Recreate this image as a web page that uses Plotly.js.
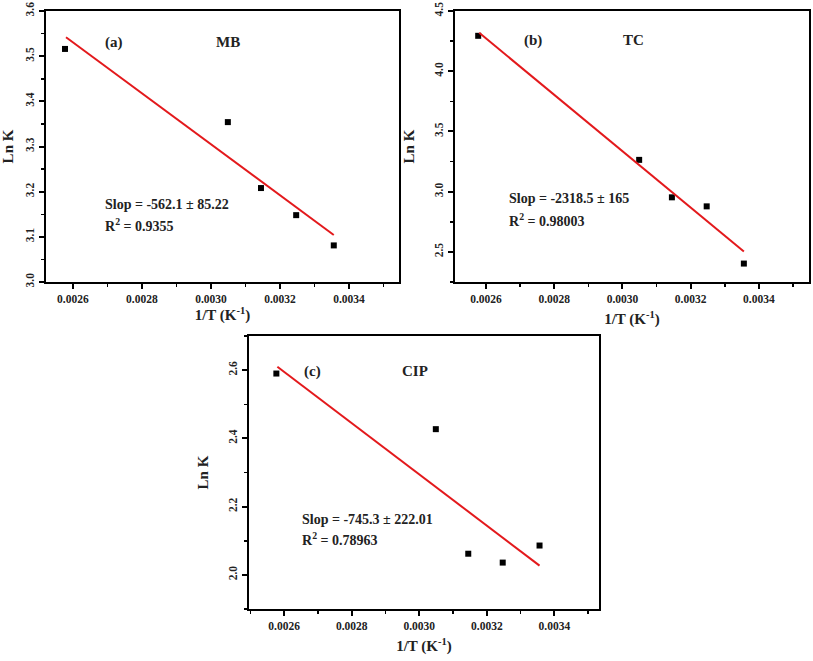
<!DOCTYPE html>
<html>
<head>
<meta charset="utf-8">
<script src="https://cdn.plot.ly/plotly-3.0.1.min.js"></script>
<style>body{margin:0;background:#fff}</style>
</head>
<body>
<div id="graph" style="width:813px;height:661px"></div>
<script>
// 1/T values shared by all three panels
var invT = [0.002577, 0.003049, 0.003145, 0.003247, 0.003356];

// Ln K
var lnK_MB = [3.516, 3.354, 3.208, 3.148, 3.081];
var lnK_TC = [4.294, 3.264, 2.953, 2.878, 2.403];
var lnK_CIP = [2.590, 2.427, 2.062, 2.036, 2.086];

// fitted line end points
var fitX = [0.00258, 0.003356];
var fit_MB = [3.542, 3.104];
var fit_TC = [4.319, 2.503];
var fit_CIP = [2.610, 2.027];

var fitLabels = [
	['(a)', 'MB', 'Slop = -562.1 ± 85.22', 'R<sup>2</sup> = 0.9355'],
	['(b)', 'TC', 'Slop = -2318.5 ± 165', 'R<sup>2</sup> = 0.98003'],
	['(c)', 'CIP', 'Slop = -745.3 ± 222.01', 'R<sup>2</sup> = 0.78963']
];

var serif = 'Liberation Serif, Times New Roman, serif';
var W = 813, H = 661;

function pts(y, ax) {
	return {
		x: invT, y: y, xaxis: 'x' + ax, yaxis: 'y' + ax,
		mode: 'markers', type: 'scatter',
		marker: {symbol: 'square', size: 6, color: '#000'},
		showlegend: false, hoverinfo: 'x+y'
	};
}
function fit(y, ax) {
	return {
		x: fitX, y: y, xaxis: 'x' + ax, yaxis: 'y' + ax,
		mode: 'lines', type: 'scatter',
		line: {color: '#e3191c', width: 2},
		showlegend: false, hoverinfo: 'skip'
	};
}

var data = [
	pts(lnK_MB, ''), fit(fit_MB, ''),
	pts(lnK_TC, '2'), fit(fit_TC, '2'),
	pts(lnK_CIP, '3'), fit(fit_CIP, '3')
];

// box in pixels: left, right, top, bottom
function xax(l, r, range, anchor, off) {
	return {
		domain: [l / W, r / W], range: range, anchor: anchor,
		tick0: 0.0026, dtick: 0.0002, tickformat: '.4f',
		ticks: 'outside', ticklen: 5, tickwidth: 2, tickcolor: '#000',
		minor: {dtick: 0.0001, ticks: 'outside', ticklen: 3, tickwidth: 1.5, tickcolor: '#000'},
		showline: true, linewidth: 2, linecolor: '#000', mirror: true,
		showgrid: false, zeroline: false,
		tickfont: {family: serif, size: 11.5, weight: 'bold', color: '#222'},
		title: {text: '1/T (K<sup>-1</sup>)', standoff: off, font: {family: serif, size: 15, weight: 'bold', color: '#222'}}
	};
}
function yax(t, b, range, dtick, fmt, anchor) {
	return {
		domain: [1 - b / H, 1 - t / H], range: range, anchor: anchor,
		dtick: dtick, tickformat: fmt, tickangle: -90,
		ticks: 'outside', ticklen: 5, tickwidth: 2, tickcolor: '#000',
		minor: {dtick: dtick / 2, ticks: 'outside', ticklen: 3, tickwidth: 1.5, tickcolor: '#000'},
		showline: true, linewidth: 2, linecolor: '#000', mirror: true,
		showgrid: false, zeroline: false,
		tickfont: {family: serif, size: 11.5, weight: 'bold', color: '#222'},
		title: {text: 'Ln K', font: {family: serif, size: 15, weight: 'bold', color: '#222'}}
	};
}

var layout = {
	width: W, height: H,
	margin: {l: 0, r: 0, t: 0, b: 0},
	paper_bgcolor: '#fff', plot_bgcolor: '#fff',
	xaxis: xax(46, 399, [0.002522, 0.003545], 'y', 4),
	yaxis: yax(11, 282, [3.0, 3.6], 0.1, '.1f', 'x'),
	xaxis2: xax(455, 809, [0.002509, 0.003547], 'y2', 10),
	yaxis2: yax(11, 282, [2.25, 4.5], 0.5, '.1f', 'x2'),
	xaxis3: xax(249, 599, [0.002496, 0.003532], 'y3', 10),
	yaxis3: yax(336, 609, [1.9, 2.7], 0.2, '.1f', 'x3'),
	annotations: []
};

// label positions inside each panel (fractions of the plot box)
var spots = [
	{ax: '', tag: [0.161, 0.923], name: [0.516, 0.923], s: [0.161, 0.25], r: [0.161, 0.169]},
	{ax: '2', tag: [0.189, 0.93], name: [0.503, 0.93], s: [0.147, 0.273], r: [0.147, 0.19]},
	{ax: '3', tag: [0.151, 0.91], name: [0.474, 0.91], s: [0.145, 0.293], r: [0.145, 0.217]}
];
spots.forEach(function(p, i) {
	var xr = 'x' + p.ax + ' domain', yr = 'y' + p.ax + ' domain';
	var big = {family: serif, size: 15, weight: 'bold', color: '#222'};
	var mid = {family: serif, size: 14, weight: 'bold', color: '#222'};
	layout.annotations.push(
		{xref: xr, yref: yr, x: p.tag[0], y: p.tag[1], xanchor: 'left', text: fitLabels[i][0], showarrow: false, font: big},
		{xref: xr, yref: yr, x: p.name[0], y: p.name[1], xanchor: 'center', text: fitLabels[i][1], showarrow: false, font: big},
		{xref: xr, yref: yr, x: p.s[0], y: p.s[1], xanchor: 'left', text: fitLabels[i][2], showarrow: false, font: mid},
		{xref: xr, yref: yr, x: p.r[0], y: p.r[1], xanchor: 'left', text: fitLabels[i][3], showarrow: false, font: mid}
	);
});

Plotly.newPlot('graph', data, layout, {staticPlot: true});
</script>
</body>
</html>
